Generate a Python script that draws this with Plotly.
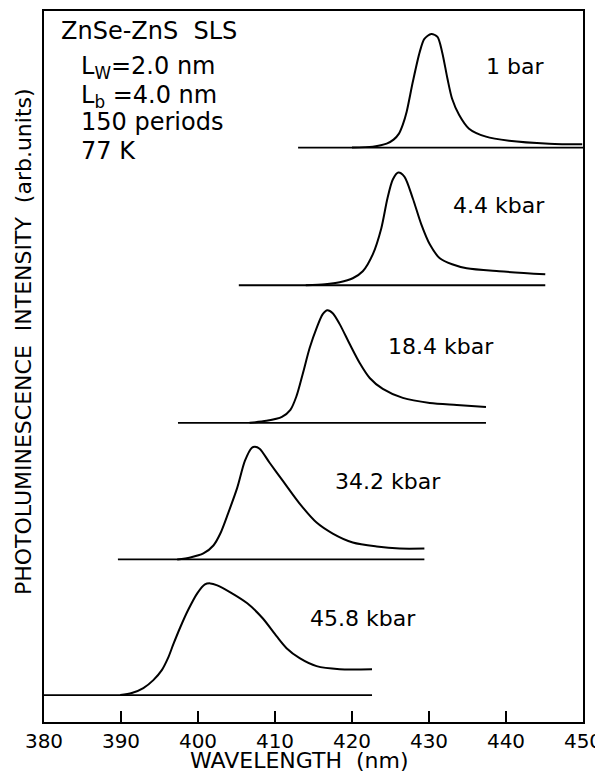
import plotly.graph_objects as go

# ---- data (wavelength in nm, intensity in arbitrary units above each baseline) ----
pressures = ["1 bar", "4.4 kbar", "18.4 kbar", "34.2 kbar", "45.8 kbar"]
baseline_offsets = [576, 438, 300, 163, 27]
baseline_start = [413.0, 405.3, 397.4, 389.6, 380.0]
baseline_end = [450.0, 445.1, 437.4, 429.4, 422.6]

wl_1bar = [420.0, 422.7, 424.5, 425.4, 426.1, 426.6, 427.1, 427.9, 428.8, 429.4, 430.3, 431.1,
           431.7, 432.4, 433.0, 433.9, 435.2, 437.4, 440.4, 445.6, 449.9]
int_1bar = [0, 1, 4, 8, 14, 23, 36, 66, 96, 109, 114, 111, 96, 69, 49, 33, 19, 11, 7, 4, 3.3]

wl_4kbar = [414.0, 416.5, 418.4, 420.1, 421.4, 422.7, 423.8, 424.6, 425.3, 426.0, 426.8, 427.9,
            429.0, 430.1, 431.4, 433.0, 434.9, 439.1, 445.1]
int_4kbar = [0, 1, 3, 7, 14, 31, 57, 87, 106, 113, 109, 87, 61, 41, 27, 21, 17, 14, 11]

wl_18kbar = [406.7, 408.9, 410.9, 412.0, 412.8, 413.6, 414.5, 415.4, 416.2, 416.8, 417.5, 418.4,
             419.7, 421.0, 422.3, 424.0, 426.6, 430.1, 433.6, 437.4]
int_18kbar = [0, 2, 6, 13, 27, 49, 75, 95, 109, 113, 110, 99, 79, 60, 45, 34, 25, 20, 18, 16]

wl_34kbar = [397.3, 399.0, 400.7, 402.0, 402.9, 403.9, 405.1, 406.1, 407.0, 407.4, 408.0, 409.3,
             411.0, 413.2, 415.4, 417.5, 420.1, 423.2, 426.2, 429.4]
int_34kbar = [0, 2, 6, 14, 26, 46, 72, 99, 112, 113, 111, 97, 79, 56, 37, 26, 17, 13, 11, 11]

wl_46kbar = [389.9, 391.4, 392.9, 394.2, 395.3, 396.1, 396.8, 397.7, 398.7, 399.9, 400.9, 401.6,
             402.5, 404.2, 406.4, 408.4, 410.2, 411.5, 413.2, 415.4, 418.4, 422.6]
int_46kbar = [0, 2, 7, 15, 25, 37, 51, 68, 85, 102, 111, 112, 110, 103, 92, 77, 59, 47, 37, 29, 26, 26]

spectra_wl = [wl_1bar, wl_4kbar, wl_18kbar, wl_34kbar, wl_46kbar]
spectra_int = [int_1bar, int_4kbar, int_18kbar, int_34kbar, int_46kbar]

x_ticks = [380, 390, 400, 410, 420, 430, 440, 450]

FONT = "DejaVu Sans"
PLOT_H = 713  # y-axis span in arbitrary units

fig = go.Figure()
for name, off, xs, xe, wl, inten in zip(pressures, baseline_offsets, baseline_start,
                                        baseline_end, spectra_wl, spectra_int):
    fig.add_trace(go.Scatter(x=[xs, xe], y=[off, off], mode="lines",
                             line=dict(color="black", width=1.8), showlegend=False,
                             hoverinfo="skip"))
    fig.add_trace(go.Scatter(x=wl, y=[off + v for v in inten], mode="lines", name=name,
                             line=dict(color="black", width=2.0, shape="spline", smoothing=0.8),
                             showlegend=False))

# pressure labels
label_pos = [(437.2, 657), (432.8, 518), (424.4, 377), (417.5, 241), (414.3, 104)]
for name, (lx, ly) in zip(pressures, label_pos):
    fig.add_annotation(x=lx, y=ly, text=name, showarrow=False, xanchor="left",
                       yanchor="middle", font=dict(family=FONT, size=22, color="black"))

# sample description
info = [("ZnSe-ZnS  SLS", 381.9, 693),
        ("L<sub>W</sub>=2.0 nm", 384.6, 656),
        ("L<sub>b</sub> =4.0 nm", 384.6, 627),
        ("150 periods", 384.6, 602),
        ("77 K", 384.6, 573)]
for t, tx, ty in info:
    fig.add_annotation(x=tx, y=ty, text=t, showarrow=False, xanchor="left",
                       yanchor="middle", font=dict(family=FONT, size=24, color="black"))

# axis titles
fig.add_annotation(xref="paper", yref="paper", x=(300 - 44) / 540, y=-(761 - 722) / PLOT_H,
                   text="WAVELENGTH  (nm)", showarrow=False, xanchor="center",
                   yanchor="middle", font=dict(family=FONT, size=22, color="black"))
fig.add_annotation(xref="paper", yref="paper", x=-(44 - 23) / 540, y=(722 - 341) / PLOT_H,
                   text="PHOTOLUMINESCENCE  INTENSITY  (arb.units)", textangle=-90,
                   showarrow=False, xanchor="center", yanchor="middle",
                   font=dict(family=FONT, size=22, color="black"))

# page body has an 8px margin, so the figure is offset by 8px
fig.update_layout(
    width=595, height=767,
    margin=dict(l=36, r=19, t=1, b=53),
    paper_bgcolor="white", plot_bgcolor="white",
    font=dict(family=FONT, size=20, color="black"),
)
fig.update_xaxes(range=[380, 450], tickvals=x_ticks, ticktext=[str(v) for v in x_ticks],
                 ticks="inside", ticklen=11, tickwidth=1.6, tickcolor="black",
                 ticklabeloverflow="allow",
                 showline=True, linecolor="black", linewidth=1.6, mirror=True,
                 showgrid=False, zeroline=False, tickfont=dict(family=FONT, size=20))
fig.update_yaxes(range=[0, PLOT_H], showticklabels=False, ticks="",
                 showline=True, linecolor="black", linewidth=1.6, mirror=True,
                 showgrid=False, zeroline=False)

fig.write_html("out.html")
